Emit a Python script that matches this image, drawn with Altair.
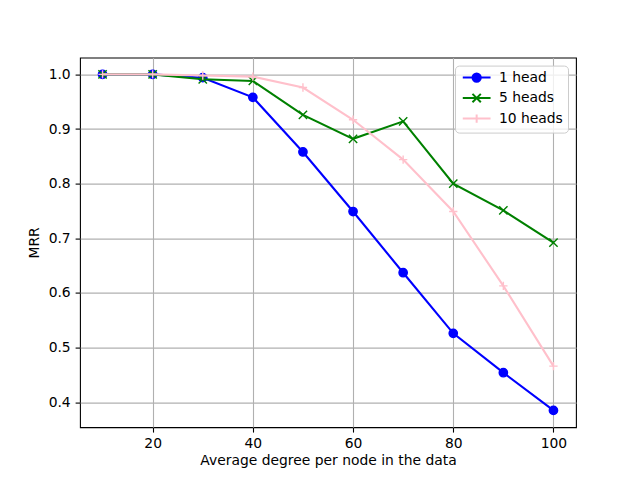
import altair as alt
import pandas as pd

# ---- data ----
degrees = [10, 20, 30, 40, 50, 60, 70, 80, 90, 100]
one_head = [1.0, 1.0, 0.994, 0.958, 0.858, 0.749, 0.637, 0.526, 0.454, 0.385]
five_heads = [1.0, 1.0, 0.991, 0.988, 0.926, 0.882, 0.914, 0.800, 0.751, 0.692]
ten_heads = [1.0, 1.0, 0.998, 0.996, 0.976, 0.917, 0.844, 0.749, 0.613, 0.466]
series_names = ["1 head", "5 heads", "10 heads"]
series_colors = ["#0000ff", "#008000", "#ffc0cb"]
x_ticks = [20, 40, 60, 80, 100]
y_ticks = [0.4, 0.5, 0.6, 0.7, 0.8, 0.9, 1.0]

rows = []
for name, vals in zip(series_names, [one_head, five_heads, ten_heads]):
    for d, v in zip(degrees, vals):
        rows.append({"degree": d, "mrr": v, "series": name})
df = pd.DataFrame(rows)

# marker shapes (unit box -1..1)
marker_paths = [
    "M-1,0A1,1,0,1,1,1,0A1,1,0,1,1,-1,0Z",
    "M-1,-1L1,1M-1,1L1,-1",
    "M-1,0L1,0M0,-1L0,1",
]
# legend handles: line + marker
legend_paths = [
    "M-1,0L5.67,0M1.33,0A1,1,0,1,1,3.33,0A1,1,0,1,1,1.33,0Z",
    "M-1,0L5.67,0M1.33,-1L3.33,1M1.33,1L3.33,-1",
    "M-1,0L5.67,0M1.33,0L3.33,0M2.33,-1L2.33,1",
]

FONT = "DejaVu Sans"
FS = 13.9


def cscale():
    return alt.Scale(domain=series_names, range=series_colors)


x_enc = alt.X("degree:Q", scale=alt.Scale(domain=[5.5, 104.5], nice=False, zero=False),
              axis=alt.Axis(values=x_ticks, title="Average degree per node in the data", titlePadding=3))
y_enc = alt.Y("mrr:Q", scale=alt.Scale(domain=[0.35425, 1.03075], nice=False, zero=False),
              axis=alt.Axis(values=y_ticks, format=".1f", title="MRR", titlePadding=7))

legend = alt.Legend(
    title=None, orient="top-right", offset=8,
    symbolSize=69.4, symbolStrokeWidth=2, labelOffset=25,
    labelFont=FONT, labelFontSize=FS, labelColor="black",
    rowPadding=2.5, padding=5,
    fillColor="rgba(255,255,255,0.8)", strokeColor="#cccccc", cornerRadius=4,
)

layers = []
for name in series_names:
    sub = alt.Chart(df).transform_filter(alt.datum.series == name)
    line = sub.mark_line(strokeWidth=2.1).encode(
        x=x_enc, y=y_enc,
        color=alt.Color("series:N", scale=cscale(), legend=None),
    )
    pts = sub.mark_point(filled=True, size=69.4, strokeWidth=1.4, opacity=1).encode(
        x=x_enc, y=y_enc,
        color=alt.Color("series:N", scale=cscale(), legend=None),
        stroke=alt.Stroke("series:N", scale=cscale(), legend=None),
        shape=alt.Shape("series:N", scale=alt.Scale(domain=series_names, range=marker_paths), legend=None),
    )
    layers += [line, pts]

# legend-only layer (no rows drawn)
legend_layer = alt.Chart(df).transform_filter("false").mark_point(
    filled=True, size=69.4, strokeWidth=2, opacity=1
).encode(
    x=x_enc, y=y_enc,
    color=alt.Color("series:N", scale=cscale(), legend=legend),
    stroke=alt.Stroke("series:N", scale=cscale(), legend=legend),
    shape=alt.Shape("series:N", scale=alt.Scale(domain=series_names, range=legend_paths), legend=legend),
)
layers.append(legend_layer)

chart = alt.layer(*layers).resolve_scale(
    color="independent", stroke="independent", shape="independent"
).properties(
    width=496, height=369.6,
    padding={"left": 72, "top": 49.6, "right": 56, "bottom": 44},
    autosize=alt.AutoSizeParams(type="none"),
).configure_view(
    stroke="black", strokeWidth=1.1
).configure_axis(
    labelFont=FONT, labelFontSize=FS, labelColor="black",
    titleFont=FONT, titleFontSize=FS, titleColor="black", titleFontWeight="normal",
    tickColor="black", tickSize=4.9, tickWidth=1.1, labelPadding=4.9,
    domain=False, grid=True, gridColor="#b0b0b0", gridWidth=1.1,
)

chart.save("out.html", embed_options={"renderer": "svg", "actions": False})
